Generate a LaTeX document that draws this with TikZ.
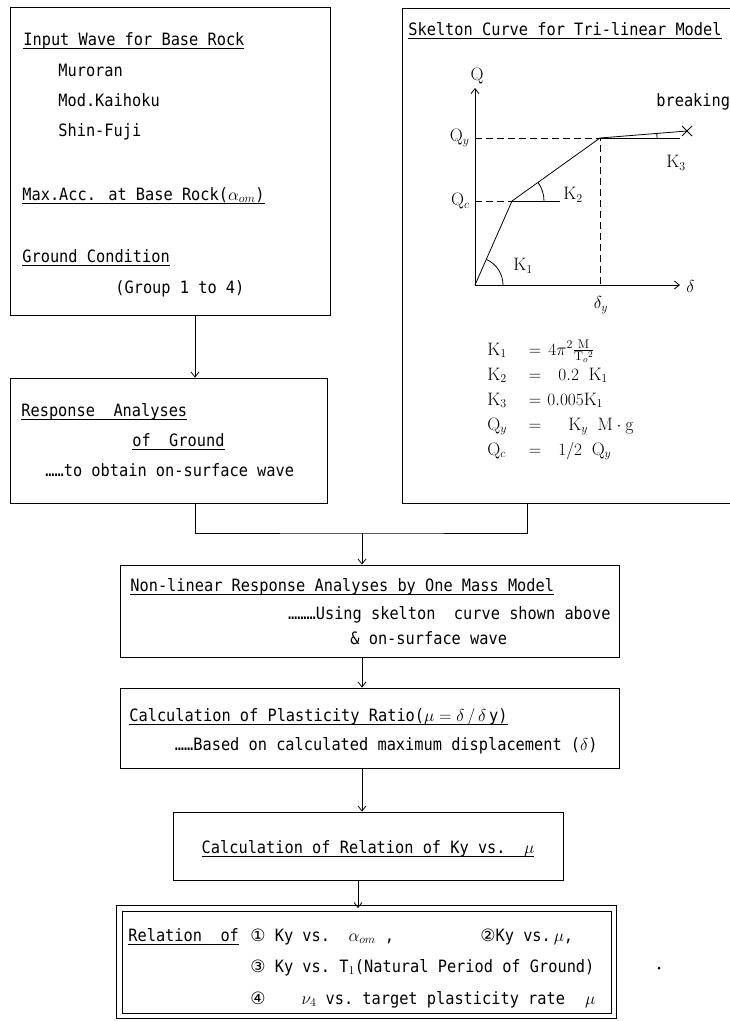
\documentclass[tikz,border=0pt]{standalone}
\usepackage{fontspec}
\usepackage{amsmath}
\usetikzlibrary{arrows.meta}
\newfontfamily\typefont[FakeStretch=0.9]{DejaVu Sans Mono}
\newfontfamily\circfont{DejaVu Sans}
\newcommand{\ulin}[1]{\leavevmode\setbox0=\hbox{#1}\rlap{\rule[-3.5pt]{\wd0}{0.8pt}}\box0}

\begin{document}
\begin{tikzpicture}[x=1pt, y=-1pt, line width=0.8pt,
  box/.style={draw, inner sep=0pt},
  txt/.style={font=\fontsize{17}{20}\typefont, anchor=base west, inner sep=0pt},
  lbl/.style={font=\fontsize{18}{20}\selectfont, inner sep=0pt},
  frm/.style={font=\fontsize{18}{20}\selectfont, anchor=base west, inner sep=0pt},
  arr/.style={-{Straight Barb[length=5pt,width=8pt]}},
  dsh/.style={dash pattern=on 7pt off 4pt}]
  \useasboundingbox (0,0) rectangle (730,1021);

  % Boxes
  \node[box, minimum width=320pt, minimum height=308pt] (input) at (170,161) {};
  \node[box, minimum width=317pt, minimum height=125pt] (resp) at (168.5,440.5) {};
  \node[box, minimum width=499pt, minimum height=92pt] (mass) at (369.5,611) {};
  \node[box, minimum width=499pt, minimum height=80pt] (ratio) at (369.5,728) {};
  \node[box, minimum width=390pt, minimum height=68pt] (relky) at (368,846) {};
  \node[box, double, double distance=4.5pt, minimum width=494.5pt, minimum height=107.5pt] (result) at (366.75,962.25) {};
  \coordinate (skelnw) at (402,8);
  \coordinate (skelsw) at (402,503);
  \coordinate (skelbot) at (527,503);
  \draw (731,8) -- (skelnw) -- (skelsw) -- (731,503);

  % Connectors
  \coordinate (join) at (362,533);
  \draw[arr] ([xshift=25pt]input.south) -- ([xshift=25pt]input.south |- resp.north);
  \draw ([xshift=26.5pt]resp.south) |- (join) -| (skelbot);
  \draw[arr] (join) -- (join |- mass.north);
  \draw[arr] ([xshift=-7.5pt]mass.south) -- ([xshift=-7.5pt]mass.south |- ratio.north);
  \draw[arr] ([xshift=-7.5pt]ratio.south) -- ([xshift=-7.5pt]ratio.south |- relky.north);
  \draw[arr] ([xshift=-10pt]relky.south) -- ([xshift=-10pt]relky.south |- result.north);

  % Input box
  \node[txt] (inwave) at (23,45) {\ulin{Input Wave for Base Rock}};
  \foreach \nm/\yy in {Muroran/76, Mod.Kaihoku/106, Shin-Fuji/136}
    \node[txt] (wave\yy) at (58,\yy) {\nm};
  \node[txt] (maxacc) at (22,200) {\ulin{Max.Acc. at Base Rock($\alpha_{om}$)}};
  \node[txt] (ground) at (22,262) {\ulin{Ground Condition}};
  \node[txt] (group) at (115,293) {(Group 1 to 4)};

  % Response box
  \node[txt] (resp1) at (21,416) {\ulin{Response~~Analyses}};
  \node[txt] (resp2) at (132,446) {\ulin{of~~Ground}};
  \node[txt] (resp3) at (45,476) {……to obtain on-surface wave};

  % Skelton curve
  \node[txt] (skel) at (408,35) {\ulin{Skelton Curve for Tri-linear Model}};
  \coordinate (O) at (475,285);
  \coordinate (C) at (512,201);
  \coordinate (Y) at (600,138);
  \coordinate (B) at (687,131);
  \draw[arr] (O) -- (475,88);
  \draw[arr] (O) -- (680,285);
  \draw[dsh] (O |- Y) -- (Y) -- (Y |- O);
  \draw[dsh] (O |- C) -- (C);
  \draw (O) -- (C) -- (Y) -- (B);
  \draw (C) -- ++(48,0);
  \draw (Y) -- ++(80,0);
  \draw ([xshift=28pt]O) arc[start angle=0, end angle=66, radius=28pt];
  \draw ([xshift=32pt]C) arc[start angle=0, end angle=35.6, radius=32pt];
  \draw ([xshift=57pt]Y) arc[start angle=0, end angle=4.6, radius=57pt];
  \draw ([shift={(-5pt,-5pt)}]B) -- ([shift={(5pt,5pt)}]B);
  \draw ([shift={(-5pt,5pt)}]B) -- ([shift={(5pt,-5pt)}]B);
  \node[lbl] (qlab) at (477,76) {$\mathrm{Q}$};
  \node[lbl, anchor=west] (dlab) at (686,286) {$\delta$};
  \node[lbl, anchor=east] (qylab) at (470,138) {$\mathrm{Q}_y$};
  \node[lbl, anchor=east] (qclab) at (470,201) {$\mathrm{Q}_c$};
  \node[lbl] (k1lab) at (523,266) {$\mathrm{K}_1$};
  \node[lbl] (k2lab) at (573,195) {$\mathrm{K}_2$};
  \node[lbl] (k3lab) at (676,163) {$\mathrm{K}_3$};
  \node[lbl] (dylab) at (601,305) {$\delta_y$};
  \node[txt] (brk) at (656,106) {breaking};

  % Formulas
  \foreach \nm/\yy/\lhs/\xr/\rhs in {
    k1/355/{\mathrm{K}_1}/548/{4\pi^{2}\frac{\;\mathrm{M}\;}{\mathrm{T}_o{}^{2}}},
    k2/380/{\mathrm{K}_2}/558/{0.2\;\;\mathrm{K}_1},
    k3/405/{\mathrm{K}_3}/547/{0.005\mathrm{K}_1},
    qy/430/{\mathrm{Q}_y}/568/{\mathrm{K}_y\;\;\mathrm{M}\cdot\mathrm{g}},
    qc/455/{\mathrm{Q}_c}/558/{1/2\;\;\mathrm{Q}_y}} {
    \node[frm] (\nm l) at (487,\yy) {$\lhs$};
    \node[frm, anchor=base] (\nm e) at (535,\yy) {$=$};
    \node[frm] (\nm r) at (\xr,\yy) {$\rhs$};
  }

  % One mass model box
  \node[txt] (mass1) at (130,591) {\ulin{Non-linear Response Analyses by One Mass Model}};
  \node[txt, anchor=base east] (mass2) at (611,619) {………Using skelton~~curve shown above};
  \node[txt] (mass3) at (350,644) {\&~on-surface wave};

  % Plasticity ratio box
  \node[txt] (ratio1) at (129,721) {\ulin{Calculation of Plasticity Ratio($\mu=\delta\,/\,\delta\,$y)}};
  \node[txt, anchor=base east] (ratio2) at (598,750) {……Based on calculated maximum displacement ($\delta$)};

  % Ky box
  \node[txt, anchor=base] (relky1) at (368,853) {\ulin{Calculation of Relation of Ky vs.~~$\mu$}};

  % Result box
  \node[txt] (res0) at (128,941) {\ulin{Relation~~of}};
  \node[txt] (res1) at (250,941) {{\circfont ①} Ky vs.~~$\alpha_{om}$ ,};
  \node[txt] (res1b) at (480,941) {{\circfont ②}Ky vs.$\,\mu$,};
  \node[txt] (res2) at (250,972) {{\circfont ③} Ky vs.~T$_1$(Natural Period of Ground)};
  \node[txt] (res3) at (250,1004) {{\circfont ④}\hspace{36pt}$\nu_4$ vs.~target plasticity rate\hspace{20pt}$\mu$};
  \fill (659,968) circle (1.5pt);
\end{tikzpicture}
\end{document}
